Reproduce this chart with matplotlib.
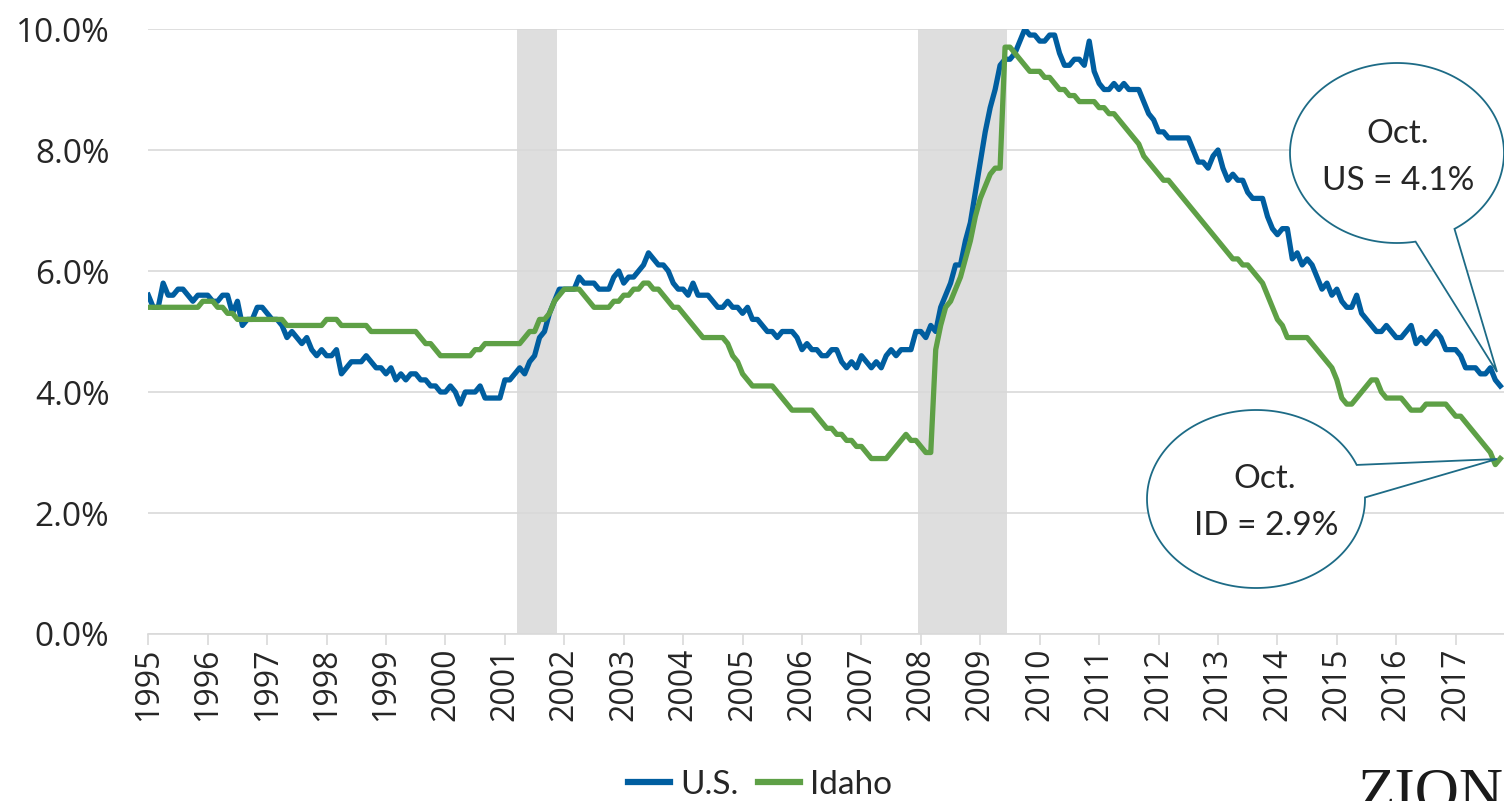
import numpy as np
import matplotlib.pyplot as plt
from matplotlib.patches import Polygon

# monthly unemployment rate (%), Jan 1995 - Oct 2017
us_rate = [
    5.6, 5.4, 5.4, 5.8, 5.6, 5.6, 5.7, 5.7, 5.6, 5.5, 5.6, 5.6,  # 1995
    5.6, 5.5, 5.5, 5.6, 5.6, 5.3, 5.5, 5.1, 5.2, 5.2, 5.4, 5.4,  # 1996
    5.3, 5.2, 5.2, 5.1, 4.9, 5.0, 4.9, 4.8, 4.9, 4.7, 4.6, 4.7,  # 1997
    4.6, 4.6, 4.7, 4.3, 4.4, 4.5, 4.5, 4.5, 4.6, 4.5, 4.4, 4.4,  # 1998
    4.3, 4.4, 4.2, 4.3, 4.2, 4.3, 4.3, 4.2, 4.2, 4.1, 4.1, 4.0,  # 1999
    4.0, 4.1, 4.0, 3.8, 4.0, 4.0, 4.0, 4.1, 3.9, 3.9, 3.9, 3.9,  # 2000
    4.2, 4.2, 4.3, 4.4, 4.3, 4.5, 4.6, 4.9, 5.0, 5.3, 5.5, 5.7,  # 2001
    5.7, 5.7, 5.7, 5.9, 5.8, 5.8, 5.8, 5.7, 5.7, 5.7, 5.9, 6.0,  # 2002
    5.8, 5.9, 5.9, 6.0, 6.1, 6.3, 6.2, 6.1, 6.1, 6.0, 5.8, 5.7,  # 2003
    5.7, 5.6, 5.8, 5.6, 5.6, 5.6, 5.5, 5.4, 5.4, 5.5, 5.4, 5.4,  # 2004
    5.3, 5.4, 5.2, 5.2, 5.1, 5.0, 5.0, 4.9, 5.0, 5.0, 5.0, 4.9,  # 2005
    4.7, 4.8, 4.7, 4.7, 4.6, 4.6, 4.7, 4.7, 4.5, 4.4, 4.5, 4.4,  # 2006
    4.6, 4.5, 4.4, 4.5, 4.4, 4.6, 4.7, 4.6, 4.7, 4.7, 4.7, 5.0,  # 2007
    5.0, 4.9, 5.1, 5.0, 5.4, 5.6, 5.8, 6.1, 6.1, 6.5, 6.8, 7.3,  # 2008
    7.8, 8.3, 8.7, 9.0, 9.4, 9.5, 9.5, 9.6, 9.8, 10.0, 9.9, 9.9,  # 2009
    9.8, 9.8, 9.9, 9.9, 9.6, 9.4, 9.4, 9.5, 9.5, 9.4, 9.8, 9.3,  # 2010
    9.1, 9.0, 9.0, 9.1, 9.0, 9.1, 9.0, 9.0, 9.0, 8.8, 8.6, 8.5,  # 2011
    8.3, 8.3, 8.2, 8.2, 8.2, 8.2, 8.2, 8.0, 7.8, 7.8, 7.7, 7.9,  # 2012
    8.0, 7.7, 7.5, 7.6, 7.5, 7.5, 7.3, 7.2, 7.2, 7.2, 6.9, 6.7,  # 2013
    6.6, 6.7, 6.7, 6.2, 6.3, 6.1, 6.2, 6.1, 5.9, 5.7, 5.8, 5.6,  # 2014
    5.7, 5.5, 5.4, 5.4, 5.6, 5.3, 5.2, 5.1, 5.0, 5.0, 5.1, 5.0,  # 2015
    4.9, 4.9, 5.0, 5.1, 4.8, 4.9, 4.8, 4.9, 5.0, 4.9, 4.7, 4.7,  # 2016
    4.7, 4.6, 4.4, 4.4, 4.4, 4.3, 4.3, 4.4, 4.2, 4.1,            # 2017
]
idaho_rate = [
    5.4, 5.4, 5.4, 5.4, 5.4, 5.4, 5.4, 5.4, 5.4, 5.4, 5.4, 5.5,  # 1995
    5.5, 5.5, 5.4, 5.4, 5.3, 5.3, 5.2, 5.2, 5.2, 5.2, 5.2, 5.2,  # 1996
    5.2, 5.2, 5.2, 5.2, 5.1, 5.1, 5.1, 5.1, 5.1, 5.1, 5.1, 5.1,  # 1997
    5.2, 5.2, 5.2, 5.1, 5.1, 5.1, 5.1, 5.1, 5.1, 5.0, 5.0, 5.0,  # 1998
    5.0, 5.0, 5.0, 5.0, 5.0, 5.0, 5.0, 4.9, 4.8, 4.8, 4.7, 4.6,  # 1999
    4.6, 4.6, 4.6, 4.6, 4.6, 4.6, 4.7, 4.7, 4.8, 4.8, 4.8, 4.8,  # 2000
    4.8, 4.8, 4.8, 4.8, 4.9, 5.0, 5.0, 5.2, 5.2, 5.3, 5.5, 5.6,  # 2001
    5.7, 5.7, 5.7, 5.7, 5.6, 5.5, 5.4, 5.4, 5.4, 5.4, 5.5, 5.5,  # 2002
    5.6, 5.6, 5.7, 5.7, 5.8, 5.8, 5.7, 5.7, 5.6, 5.5, 5.4, 5.4,  # 2003
    5.3, 5.2, 5.1, 5.0, 4.9, 4.9, 4.9, 4.9, 4.9, 4.8, 4.6, 4.5,  # 2004
    4.3, 4.2, 4.1, 4.1, 4.1, 4.1, 4.1, 4.0, 3.9, 3.8, 3.7, 3.7,  # 2005
    3.7, 3.7, 3.7, 3.6, 3.5, 3.4, 3.4, 3.3, 3.3, 3.2, 3.2, 3.1,  # 2006
    3.1, 3.0, 2.9, 2.9, 2.9, 2.9, 3.0, 3.1, 3.2, 3.3, 3.2, 3.2,  # 2007
    3.1, 3.0, 3.0, 4.7, 5.1, 5.4, 5.5, 5.7, 5.9, 6.2, 6.5, 6.9,  # 2008
    7.2, 7.4, 7.6, 7.7, 7.7, 9.7, 9.7, 9.6, 9.5, 9.4, 9.3, 9.3,  # 2009
    9.3, 9.2, 9.2, 9.1, 9.0, 9.0, 8.9, 8.9, 8.8, 8.8, 8.8, 8.8,  # 2010
    8.7, 8.7, 8.6, 8.6, 8.5, 8.4, 8.3, 8.2, 8.1, 7.9, 7.8, 7.7,  # 2011
    7.6, 7.5, 7.5, 7.4, 7.3, 7.2, 7.1, 7.0, 6.9, 6.8, 6.7, 6.6,  # 2012
    6.5, 6.4, 6.3, 6.2, 6.2, 6.1, 6.1, 6.0, 5.9, 5.8, 5.6, 5.4,  # 2013
    5.2, 5.1, 4.9, 4.9, 4.9, 4.9, 4.9, 4.8, 4.7, 4.6, 4.5, 4.4,  # 2014
    4.2, 3.9, 3.8, 3.8, 3.9, 4.0, 4.1, 4.2, 4.2, 4.0, 3.9, 3.9,  # 2015
    3.9, 3.9, 3.8, 3.7, 3.7, 3.7, 3.8, 3.8, 3.8, 3.8, 3.8, 3.7,  # 2016
    3.6, 3.6, 3.5, 3.4, 3.3, 3.2, 3.1, 3.0, 2.8, 2.9,            # 2017
]
series_labels = ['U.S.', 'Idaho']
year_ticks = list(range(1995, 2018))
# recessions (decimal years)
recession_start = [2001.2, 2007.95]
recession_end = [2001.87, 2009.45]

BLUE = '#005ea0'
GREEN = '#5ea046'
GRID = '#d9d9d9'
TEXT = '#262626'
CALLOUT = '#1d6b86'

W, H = 1504, 801
fig = plt.figure(figsize=(W / 100, H / 100), dpi=100)

# plot area in pixels: left 148, top 29, bottom 634, runs off the right edge
left, top, bottom = 148.3, 29, 634
ax = fig.add_axes([left / W, 1 - bottom / H, (W - left) / W, (bottom - top) / H])

t = 1995 + np.arange(len(us_rate)) / 12

for s, e in zip(recession_start, recession_end):
    ax.axvspan(s, e, color='#dedede', lw=0, zorder=0)

ax.plot(t, us_rate, color=BLUE, lw=3.8, solid_joinstyle='round', label=series_labels[0], zorder=3)
ax.plot(t, idaho_rate, color=GREEN, lw=3.8, solid_joinstyle='round', label=series_labels[1], zorder=3)

px_per_year = (1455.7 - 148.3) / 22
ax.set_xlim(1995, 1995 + (W - left) / px_per_year)
ax.set_ylim(0, 10)

ax.set_yticks(np.arange(0, 10.1, 2))
ax.set_yticklabels(['{:.1f}%'.format(v) for v in np.arange(0, 10.1, 2)],
                   fontsize=24, family='Open Sans', color=TEXT)
ax.set_xticks(year_ticks)
ax.set_xticklabels([str(y) for y in year_ticks], rotation=90,
                   fontsize=23, family='Open Sans', color=TEXT)
ax.tick_params(axis='y', length=0, pad=28)
ax.tick_params(axis='x', length=8, width=1.2, color=GRID, pad=2)
ax.grid(axis='y', color=GRID, lw=1.2, zorder=1)
ax.set_axisbelow(True)
for side in ['top', 'right', 'left']:
    ax.spines[side].set_visible(False)
ax.spines['bottom'].set_color(GRID)
ax.spines['bottom'].set_linewidth(1.2)

leg = ax.legend(loc='center', bbox_to_anchor=(760 / W, 1 - 785 / H),
                bbox_transform=fig.transFigure, ncol=2, frameon=False,
                prop={'family': 'Lato', 'size': 24}, handlelength=1.25,
                handletextpad=0.3, columnspacing=0.6)
for line in leg.get_lines():
    line.set_linewidth(4.5)
for txt in leg.get_texts():
    txt.set_color(TEXT)

# overlay in pixel coordinates for the callouts
ov = fig.add_axes([0, 0, 1, 1])
ov.set_xlim(0, W)
ov.set_ylim(H, 0)
ov.axis('off')


def bubble(cx, cy, a, b, t_from, t_to, tip):
    ang = np.radians(np.linspace(t_from, t_to, 200))
    pts = np.column_stack([cx + a * np.cos(ang), cy + b * np.sin(ang)])
    pts = np.vstack([pts, tip])
    ov.add_patch(Polygon(pts, closed=True, facecolor='white',
                         edgecolor=CALLOUT, lw=1.3, zorder=5))


bubble(1397, 153, 107, 90, 80, 417.5, (1497, 372))
bubble(1256, 499, 109, 89, -1, 337.5, (1497, 459))

ov.text(1398, 143, 'Oct.', ha='center', va='baseline', fontsize=24,
        family='Lato', color=TEXT, zorder=6)
ov.text(1398, 190, 'US = 4.1%', ha='center', va='baseline', fontsize=24,
        family='Lato', color=TEXT, zorder=6)
ov.text(1265, 488, 'Oct.', ha='center', va='baseline', fontsize=24,
        family='Lato', color=TEXT, zorder=6)
ov.text(1266, 535, 'ID = 2.9%', ha='center', va='baseline', fontsize=24,
        family='Lato', color=TEXT, zorder=6)

# logo, cut off by the slide edge as in the source
ov.text(1357, 767, 'ZIONS', ha='left', va='top', fontsize=44,
        family='Liberation Serif', color='#1a1a1a', zorder=6)

fig.savefig('out.png', dpi=100)
